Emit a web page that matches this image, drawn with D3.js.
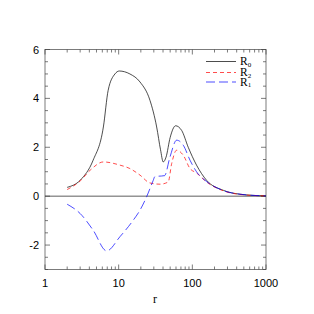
<!DOCTYPE html>
<html>
<head>
<meta charset="utf-8">
<script src="https://cdn.jsdelivr.net/npm/d3@7"></script>
<style>
  body { margin: 0; background: #fff; }
  svg { display: block; }
</style>
</head>
<body>
<svg id="chart" width="314" height="314"></svg>
<script>
// radius values (log axis) and the three curves
let r0R = [2, 3, 4.5, 6.2, 7.2, 8.9, 10.2, 14.2, 19.5, 26.6, 32.8, 37, 40.3, 44, 50, 59.3, 71.6, 88, 114, 156, 263, 443, 1000];
let r0V = [0.36, 0.65, 1.47, 2.83, 4.33, 5.0, 5.12, 5.0, 4.67, 3.92, 2.83, 1.9, 1.4, 1.6, 2.4, 2.88, 2.69, 2.0, 1.27, 0.65, 0.24, 0.08, 0.01];

let r2R = [2, 3, 4.1, 6.2, 10.4, 14.2, 19.5, 26.6, 36.4, 47, 52.4, 61.2, 75.5, 93, 114, 156, 263, 443, 1000];
let r2V = [0.27, 0.62, 1.06, 1.40, 1.27, 1.13, 0.86, 0.54, 0.49, 0.58, 1.33, 1.88, 1.67, 1.13, 0.95, 0.58, 0.22, 0.07, 0.01];

let r1R = [2, 3, 4.5, 6.87, 10.4, 15.8, 19.5, 23.9, 29.5, 31, 42, 49.7, 61.2, 75.5, 93, 114, 156, 263, 443, 1000];
let r1V = [-0.33, -0.71, -1.39, -2.24, -1.66, -0.98, -0.57, -0.03, 0.65, 0.8, 0.84, 1.6, 2.29, 2.08, 1.47, 1.0, 0.6, 0.23, 0.08, 0.01];

let xTickLabels = [1, 10, 100, 1000];
let yTickLabels = [-2, 0, 2, 4, 6];

let series = [
    { name: "0", r: r0R, v: r0V, colour: "#000", dash: null },
    { name: "2", r: r2R, v: r2V, colour: "#ff0000", dash: "4,3" },
    { name: "1", r: r1R, v: r1V, colour: "#0000ff", dash: "9,4" }
];

let margin = { top: 49.5, right: 48, bottom: 44.5, left: 45 }; // frame inside the svg
let width = 314, height = 314;
let svg = d3.select("#chart");

let x = d3.scaleLog().domain([1, 1000]).range([margin.left, width - margin.right]);
let y = d3.scaleLinear().domain([-3, 6]).range([height - margin.bottom, margin.top]);

let majorLen = 5;
let minorLen = 3;

// minor log ticks between decades
let xMinor = [];
for (let d = 1; d < 1000; d *= 10) {
    for (let k = 2; k <= 9; k++) xMinor.push(d * k);
}
let yMinor = d3.range(-3, 6.01, 0.5).filter(v => v % 2 !== 0);

let tickG = svg.append("g").attr("stroke", "#444").attr("stroke-width", 0.7);
// bottom / top ticks (pointing inward)
[y.range()[0], y.range()[1]].forEach((yy, side) => {
    let dir = side === 0 ? -1 : 1;
    xMinor.forEach(t => {
        tickG.append("line")
            .attr("x1", x(t)).attr("x2", x(t))
            .attr("y1", yy).attr("y2", yy + dir * minorLen);
    });
    xTickLabels.forEach(t => {
        tickG.append("line")
            .attr("x1", x(t)).attr("x2", x(t))
            .attr("y1", yy).attr("y2", yy + dir * majorLen);
    });
});
// left / right ticks
[x.range()[0], x.range()[1]].forEach((xx, side) => {
    let dir = side === 0 ? 1 : -1;
    yMinor.forEach(t => {
        tickG.append("line")
            .attr("x1", xx).attr("x2", xx + dir * minorLen)
            .attr("y1", y(t)).attr("y2", y(t));
    });
    yTickLabels.forEach(t => {
        tickG.append("line")
            .attr("x1", xx).attr("x2", xx + dir * majorLen)
            .attr("y1", y(t)).attr("y2", y(t));
    });
});

// zero line
svg.append("line")
    .attr("x1", x(1)).attr("x2", x(1000))
    .attr("y1", y(0)).attr("y2", y(0))
    .attr("stroke", "#333").attr("stroke-width", 0.8);

// curves
let line = d3.line().curve(d3.curveMonotoneX);
series.forEach(s => {
    let pts = s.r.map((rv, i) => [x(rv), y(s.v[i])]);
    svg.append("path")
        .attr("d", line(pts))
        .attr("fill", "none")
        .attr("stroke", s.colour)
        .attr("stroke-width", 0.7)
        .attr("stroke-dasharray", s.dash);
});

// frame
svg.append("rect")
    .attr("x", x.range()[0]).attr("y", y.range()[1])
    .attr("width", x.range()[1] - x.range()[0])
    .attr("height", y.range()[0] - y.range()[1])
    .attr("fill", "none").attr("stroke", "#444").attr("stroke-width", 0.7);

// tick labels
let labelFont = "Liberation Sans, Arial, sans-serif";
xTickLabels.forEach(t => {
    svg.append("text")
        .attr("x", x(t)).attr("y", 287)
        .attr("text-anchor", "middle")
        .style("font-family", labelFont).style("font-size", "11px")
        .text(t);
});
yTickLabels.forEach(t => {
    svg.append("text")
        .attr("x", 39).attr("y", y(t) + 4)
        .attr("text-anchor", "end")
        .style("font-family", labelFont).style("font-size", "11px")
        .text(t);
});

// axis title
svg.append("text")
    .attr("x", 155).attr("y", 303)
    .attr("text-anchor", "middle")
    .style("font-family", "Liberation Serif, Times New Roman, serif").style("font-size", "12px")
    .text("r");

// legend
let legY = [61.5, 72.5, 82];
series.forEach((s, i) => {
    svg.append("line")
        .attr("x1", 206).attr("x2", 236)
        .attr("y1", legY[i]).attr("y2", legY[i])
        .attr("stroke", s.colour).attr("stroke-width", 0.7)
        .attr("stroke-dasharray", s.dash);
    let t = svg.append("text")
        .attr("x", 240).attr("y", legY[i] + 3.5)
        .style("font-family", "Liberation Serif, Times New Roman, serif").style("font-size", "11.5px")
        .text("R");
    t.append("tspan")
        .attr("dy", 1.8)
        .style("font-size", "7px")
        .text(s.name);
});
</script>
</body>
</html>
